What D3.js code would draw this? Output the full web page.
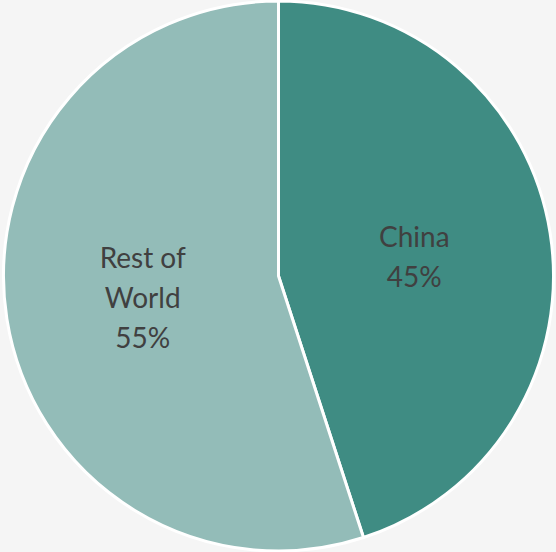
<!DOCTYPE html>
<html>
<head>
<meta charset="utf-8">
<script src="https://cdn.jsdelivr.net/npm/d3@7"></script>
<style>
  html, body { margin: 0; padding: 0; background: #f5f5f5; }
  svg { display: block; }
</style>
</head>
<body>
<svg id="chart" width="556" height="552"></svg>
<script>
// Share of total by region
const categories = ["China", "Rest of World"];
const values = [45, 55];
const labelLines = [["China", "45%"], ["Rest of", "World", "55%"]];
const colors = ["#3f8c83", "#93bcb8"];

const svg = d3.select("#chart");
const cx = 278.5, cy = 276, r = 275;

const pie = d3.pie().sort(null).value(d => d)(values);
const arc = d3.arc().innerRadius(0).outerRadius(r);

const g = svg.append("g").attr("transform", `translate(${cx},${cy})`);

g.selectAll("path")
  .data(pie)
  .join("path")
  .attr("d", arc)
  .attr("fill", (d, i) => colors[i])
  .attr("stroke", "#ffffff")
  .attr("stroke-width", 3)
  .attr("stroke-linejoin", "round");

// Labels placed at a fraction of the radius along each slice's mid angle
const labelArc = d3.arc().innerRadius(r * 0.5).outerRadius(r * 0.5);
const lineH = 40;

pie.forEach((d, i) => {
  const [lx, ly] = labelArc.centroid(d);
  const lines = labelLines[i];
  const t = g.append("text")
    .attr("text-anchor", "middle")
    .attr("font-family", "Lato, 'Open Sans', sans-serif")
    .attr("font-size", 28)
    .attr("fill", "#404040");
  lines.forEach((s, k) => {
    t.append("tspan")
      .attr("x", lx)
      .attr("y", ly + (k - (lines.length - 1) / 2) * lineH + (i === 0 ? 3 : 1))
      .attr("dy", "0.35em")
      .text(s);
  });
});
</script>
</body>
</html>
